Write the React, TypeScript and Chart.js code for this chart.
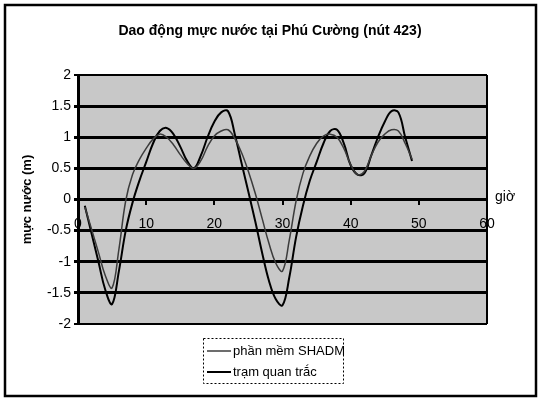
import React, { useEffect, useRef } from "react";
import { Chart, registerables } from "chart.js";

Chart.register(...registerables);

const TITLE = "Dao động mực nước tại Phú Cường (nút 423)";
const Y_TITLE = "mực nước (m)";
const X_TITLE = "giờ";

const hours = [
  1, 2, 3, 4, 5, 6, 7, 8, 9, 10, 11, 12, 13, 14, 15, 16, 17, 18, 19, 20, 21, 22, 23, 24, 25,
  26, 27, 28, 29, 30, 31, 32, 33, 34, 35, 36, 37, 38, 39, 40, 41, 42, 43, 44, 45, 46, 47, 48, 49,
];

const shadm = [
  -0.12, -0.48, -0.85, -1.22, -1.42, -0.8, -0.02, 0.4, 0.64, 0.82, 0.97, 1.05, 1.0, 0.88, 0.72,
  0.58, 0.5, 0.62, 0.85, 1.02, 1.1, 1.12, 0.98, 0.75, 0.45, 0.1, -0.3, -0.7, -1.02, -1.15,
  -0.65, -0.02, 0.42, 0.7, 0.9, 1.02, 1.05, 1.0, 0.82, 0.56, 0.4, 0.45, 0.7, 0.92, 1.05, 1.12,
  1.1, 0.9, 0.65,
];

const tramQuanTrac = [
  -0.1, -0.55, -1.0, -1.45, -1.68, -1.15, -0.5, -0.05, 0.3, 0.6, 0.9, 1.1, 1.15, 1.05, 0.85,
  0.62, 0.5, 0.7, 1.0, 1.25, 1.4, 1.42, 1.05, 0.58, 0.12, -0.35, -0.85, -1.3, -1.6, -1.7,
  -1.25, -0.6, -0.1, 0.3, 0.6, 0.9, 1.1, 1.12, 0.9, 0.55, 0.4, 0.42, 0.7, 1.0, 1.25, 1.42,
  1.4, 1.0, 0.62,
];

const seriesLabels = ["phần mềm SHADM", "trạm quan trắc"];
const xTicks = [0, 10, 20, 30, 40, 50, 60];
const yTicks = [-2, -1.5, -1, -0.5, 0, 0.5, 1, 1.5, 2];

const FONT = "'Liberation Sans', Arial, sans-serif";

const decorPlugin = {
  id: "decor",
  beforeDraw(chart: any) {
    const { ctx, chartArea } = chart;
    ctx.save();
    ctx.fillStyle = "#ffffff";
    ctx.fillRect(0, 0, chart.width, chart.height);
    ctx.fillStyle = "#c8c8c8";
    ctx.fillRect(chartArea.left, chartArea.top, chartArea.right - chartArea.left, chartArea.bottom - chartArea.top);
    ctx.restore();
  },
  afterDraw(chart: any) {
    const { ctx, chartArea } = chart;
    ctx.save();
    // plot right border
    ctx.strokeStyle = "#000";
    ctx.lineWidth = 2;
    ctx.beginPath();
    ctx.moveTo(chartArea.right, chartArea.top);
    ctx.lineTo(chartArea.right, chartArea.bottom);
    ctx.stroke();
    // outer frame
    ctx.lineWidth = 2.5;
    ctx.strokeRect(5, 5, 531, 391);
    // title
    ctx.fillStyle = "#000";
    ctx.font = `bold 14px ${FONT}`;
    ctx.textAlign = "center";
    ctx.textBaseline = "middle";
    ctx.fillText(TITLE, 270, 31);
    // x axis name at zero line
    const y0 = chart.scales.y.getPixelForValue(0);
    ctx.textAlign = "left";
    ctx.font = `14px ${FONT}`;
    ctx.fillText(X_TITLE, chartArea.right + 8, y0 - 2);
    // legend
    const lx = 203, ly = 338, lw = 140, lh = 45;
    ctx.lineWidth = 1;
    ctx.setLineDash([2, 2]);
    ctx.strokeStyle = "#000";
    ctx.strokeRect(lx + 0.5, ly + 0.5, lw, lh);
    ctx.setLineDash([]);
    ctx.font = `13px ${FONT}`;
    chart.data.datasets.forEach((ds: any, i: number) => {
      const yy = ly + 13 + i * 21;
      ctx.strokeStyle = ds.borderColor;
      ctx.lineWidth = ds.borderWidth;
      ctx.beginPath();
      ctx.moveTo(lx + 4, yy);
      ctx.lineTo(lx + 28, yy);
      ctx.stroke();
      ctx.fillStyle = "#000";
      ctx.textAlign = "left";
      ctx.textBaseline = "middle";
      ctx.fillText(ds.label, lx + 30, yy);
    });
    ctx.restore();
  },
};

export default function App() {
  const ref = useRef<HTMLCanvasElement | null>(null);
  useEffect(() => {
    if (!ref.current) return;
    const chart = new Chart(ref.current, {
      type: "line",
      data: {
        datasets: [
          {
            label: seriesLabels[0],
            data: hours.map((h, i) => ({ x: h, y: shadm[i] })),
            borderColor: "#3c3c3c",
            borderWidth: 1.5,
            pointRadius: 0,
            tension: 0.4,
            fill: false,
          },
          {
            label: seriesLabels[1],
            data: hours.map((h, i) => ({ x: h, y: tramQuanTrac[i] })),
            borderColor: "#000000",
            borderWidth: 2,
            pointRadius: 0,
            tension: 0.4,
            fill: false,
          },
        ],
      },
      options: {
        responsive: false,
        animation: false,
        layout: { padding: { top: 75, left: 0, right: 54, bottom: 76 } },
        plugins: {
          legend: { display: false },
          title: { display: false },
          tooltip: { enabled: false },
        },
        scales: {
          x: {
            type: "linear",
            position: { y: 0 } as any,
            min: 0,
            max: 60,
            afterBuildTicks: (scale: any) => {
              scale.ticks = xTicks.map((v) => ({ value: v }));
            },
            ticks: {
              color: "#000",
              font: { size: 14, family: FONT },
              padding: 12,
              maxRotation: 0,
              callback: (v: any) => String(v),
            },
            grid: { drawOnChartArea: false, drawTicks: true, tickLength: 4, tickColor: "#000", lineWidth: 2 },
            border: { display: true, color: "#000", width: 3 },
          },
          y: {
            min: -2,
            max: 2,
            afterBuildTicks: (scale: any) => {
              scale.ticks = yTicks.map((v) => ({ value: v }));
            },
            afterFit: (scale: any) => {
              scale.width = 78;
            },
            ticks: {
              color: "#000",
              font: { size: 14, family: FONT },
              padding: 3,
              callback: (v: any) => String(v),
            },
            grid: {
              color: "#000",
              lineWidth: (ctx: any) => (Math.abs(ctx.tick?.value) === 2 ? 2 : 3),
              drawTicks: true,
              tickLength: 4,
              tickColor: "#000",
            },
            border: { display: true, color: "#000", width: 3 },
            title: {
              display: true,
              text: Y_TITLE,
              color: "#000",
              font: { size: 13, weight: "bold", family: FONT },
              padding: { top: 20, bottom: 0 },
            },
          },
        },
      },
      plugins: [decorPlugin],
    });
    return () => chart.destroy();
  }, []);
  return (
    <div style={{ position: "fixed", left: 0, top: 0, width: 541, height: 400, background: "#fff" }}>
      <canvas ref={ref} width={541} height={400} style={{ width: 541, height: 400, display: "block" }} />
    </div>
  );
}
